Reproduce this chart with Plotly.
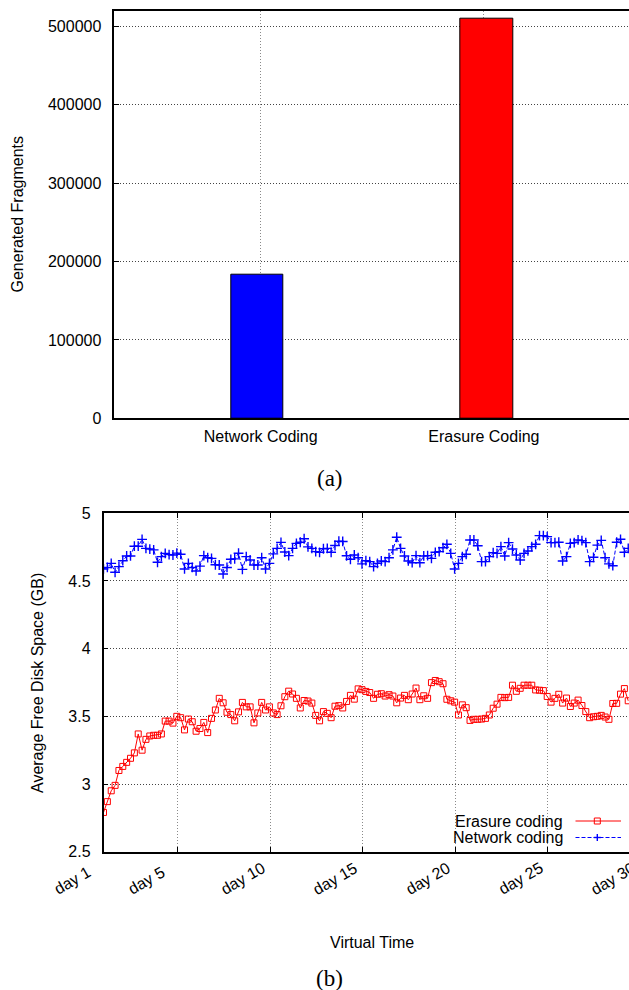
import math
import plotly.graph_objects as go

# ---------------- data ----------------
categories = ["Network Coding", "Erasure Coding"]
fragments = [183000, 510000]
bar_colors = ["#0000ff", "#ff0000"]

step_hours = 5  # one sample every 5 hours, starting on day 1
erasure = [
    2.79, 2.87, 2.95, 2.99, 3.10, 3.13, 3.16, 3.19, 3.23, 3.37,
    3.25, 3.33, 3.355, 3.36, 3.36, 3.37, 3.465, 3.465, 3.45, 3.50,
    3.49, 3.40, 3.48, 3.46, 3.39, 3.41, 3.455, 3.38, 3.485, 3.547,
    3.633, 3.60, 3.53, 3.513, 3.467, 3.533, 3.603, 3.57, 3.57, 3.452,
    3.525, 3.603, 3.547, 3.57, 3.525, 3.513, 3.578, 3.645, 3.686, 3.665,
    3.633, 3.562, 3.617, 3.613, 3.598, 3.507, 3.467, 3.535, 3.522, 3.49,
    3.575, 3.579, 3.562, 3.61, 3.655, 3.627, 3.703, 3.697, 3.684, 3.676,
    3.633, 3.663, 3.667, 3.65, 3.66, 3.65, 3.60, 3.635, 3.655, 3.623,
    3.665, 3.709, 3.623, 3.652, 3.633, 3.749, 3.765, 3.756, 3.741, 3.626,
    3.615, 3.605, 3.51, 3.585, 3.564, 3.47, 3.478, 3.478, 3.48, 3.485,
    3.51, 3.56, 3.59, 3.64, 3.638, 3.64, 3.73, 3.685, 3.707, 3.73,
    3.73, 3.73, 3.695, 3.693, 3.69, 3.647, 3.605, 3.633, 3.663, 3.598,
    3.635, 3.573, 3.598, 3.62, 3.58, 3.535, 3.49, 3.497, 3.50, 3.507,
    3.495, 3.478, 3.595, 3.596, 3.664, 3.705, 3.615,
]
network = [
    4.589, 4.60, 4.63, 4.564, 4.606, 4.65, 4.685, 4.685, 4.757, 4.757,
    4.807, 4.741, 4.736, 4.73, 4.638, 4.68, 4.704, 4.695, 4.692, 4.706,
    4.697, 4.589, 4.63, 4.60, 4.574, 4.61, 4.687, 4.672, 4.667, 4.62,
    4.618, 4.552, 4.60, 4.66, 4.663, 4.705, 4.586, 4.68, 4.655, 4.618,
    4.618, 4.672, 4.589, 4.63, 4.70, 4.741, 4.785, 4.714, 4.687, 4.741,
    4.778, 4.786, 4.812, 4.752, 4.741, 4.717, 4.712, 4.738, 4.741, 4.712,
    4.762, 4.794, 4.792, 4.686, 4.66, 4.692, 4.672, 4.626, 4.65, 4.643,
    4.606, 4.63, 4.648, 4.643, 4.672, 4.73, 4.823, 4.741, 4.685, 4.648,
    4.635, 4.687, 4.635, 4.685, 4.687, 4.667, 4.712, 4.717, 4.746, 4.771,
    4.704, 4.589, 4.63, 4.68, 4.697, 4.803, 4.803, 4.76, 4.643, 4.643,
    4.68, 4.709, 4.704, 4.754, 4.685, 4.783, 4.736, 4.692, 4.655, 4.704,
    4.722, 4.754, 4.771, 4.835, 4.835, 4.828, 4.783, 4.783, 4.786, 4.648,
    4.68, 4.778, 4.783, 4.803, 4.798, 4.783, 4.643, 4.675, 4.765, 4.8,
    4.672, 4.626, 4.613, 4.786, 4.808, 4.712, 4.741,
]
days = [1 + i * step_hours / 24 for i in range(len(erasure))]
day_ticks = [1, 5, 10, 15, 20, 25, 30]
day_labels = ["day %d" % d for d in day_ticks]
series_names = ["Erasure coding", "Network coding"]

# ---------------- geometry / style ----------------
W, H = 629, 990
SANS = "Liberation Sans, Arial, Helvetica, sans-serif"
SERIF = "Liberation Serif, Times New Roman, serif"
RED, BLUE = "#ff0000", "#0000ff"
GRID_H = "#444444"
GRID_V = "#8a8a8a"


def fx(p):
    return p / W


def fy(p):
    return 1 - p / H


top_dom_x = [fx(114.3), 1]
top_dom_y = [fy(418.3), fy(10.7)]
bot_dom_x = [fx(103.5), 1]
bot_dom_y = [fy(851.7), fy(513.3)]
x2_range = [1, 1 + (629 - 103.5) / 18.52]

fig = go.Figure()

fig.add_trace(go.Bar(
    x=categories, y=fragments, width=0.235, offset=[-0.133, -0.105],
    marker=dict(color=bar_colors, line=dict(color="black", width=1)),
    xaxis="x", yaxis="y", showlegend=False,
))
fig.add_trace(go.Scatter(
    x=days, y=erasure, name=series_names[0], mode="lines+markers",
    line=dict(color=RED, width=1),
    marker=dict(symbol="square-open", size=6, color=RED, line=dict(width=1, color=RED)),
    xaxis="x2", yaxis="y2", showlegend=False,
))
fig.add_trace(go.Scatter(
    x=days, y=network, name=series_names[1], mode="lines+markers",
    line=dict(color=BLUE, width=1, dash="4px,2px"),
    marker=dict(symbol="cross-thin-open", size=7, color=BLUE, line=dict(width=1.4, color=BLUE)),
    xaxis="x2", yaxis="y2", showlegend=False,
))

axis_common = dict(
    showline=True, linecolor="black", linewidth=1.5,
    ticks="inside", ticklen=5, tickcolor="black", tickwidth=1,
    tickfont=dict(family=SANS, size=16, color="black"),
    zeroline=False, automargin=False,
)

fig.update_layout(
    width=W, height=H, autosize=False,
    margin=dict(l=0, r=0, t=0, b=0, pad=0, autoexpand=False),
    paper_bgcolor="white", plot_bgcolor="white",
    font=dict(family=SANS, size=16, color="black"),
    bargap=0,
    xaxis=dict(
        domain=top_dom_x, anchor="y", type="category",
        range=[-0.656, 1.65], mirror=True, automargin=False,
        showline=True, linecolor="black", linewidth=1.5,
        ticks="", showgrid=True, gridcolor=GRID_V, gridwidth=1, griddash="1px,2px",
        tickfont=dict(family=SANS, size=16, color="black"),
        ticklabelstandoff=3,
    ),
    yaxis=dict(
        domain=top_dom_y, anchor="x", range=[0, 520000],
        tickvals=[0, 100000, 200000, 300000, 400000, 500000],
        tickformat="d", showgrid=True, gridcolor=GRID_H, gridwidth=1,
        griddash="1px,2px", mirror=False, ticklabelstandoff=8,
        **axis_common,
    ),
    xaxis2=dict(
        domain=bot_dom_x, anchor="y2", range=x2_range,
        tickvals=day_ticks, showticklabels=False,
        showgrid=True, gridcolor=GRID_V, gridwidth=1, griddash="1px,2px",
        mirror="ticks",
        **axis_common,
    ),
    yaxis2=dict(
        domain=bot_dom_y, anchor="x2", range=[2.5, 5],
        tickvals=[2.5, 3, 3.5, 4, 4.5, 5], ticktext=["2.5", "3", "3.5", "4", "4.5", "5"],
        showgrid=True, gridcolor=GRID_H, gridwidth=1, griddash="1px,2px",
        mirror=False, ticklabelstandoff=8,
        **axis_common,
    ),
)

# pixel position of each day tick (last one lies past the cropped edge)
x2_px0 = bot_dom_x[0] * W
x2_scale = (W - x2_px0) / (x2_range[1] - x2_range[0])
tick_px = [x2_px0 + (d - x2_range[0]) * x2_scale for d in day_ticks]
plot_center_px = (x2_px0 + tick_px[-1]) / 2

annotations = [
    dict(text="Generated Fragments", x=fx(17), y=fy(214.5), textangle=-90,
         font=dict(family=SANS, size=16)),
    dict(text="Average Free Disk Space (GB)", x=fx(37), y=fy(683), textangle=-90,
         font=dict(family=SANS, size=16)),
    dict(text="Virtual Time", x=fx(plot_center_px), y=fy(942),
         font=dict(family=SANS, size=16)),
    dict(text="(a)", x=fx(330), y=fy(478), font=dict(family=SERIF, size=23)),
    dict(text="(b)", x=fx(329.5), y=fy(978), font=dict(family=SERIF, size=23)),
    dict(text=series_names[0], x=fx(565), y=fy(821), xanchor="right",
         font=dict(family=SANS, size=16)),
    dict(text=series_names[1], x=fx(565), y=fy(837.5), xanchor="right",
         font=dict(family=SANS, size=16)),
]
# rotated day labels, start-anchored like the original (text begins ~48px left of tick)
ANG = 30
for px, lab in zip(tick_px, day_labels):
    half_w = (30.2 + 8.9 * (len(lab) - 4)) / 2
    cx = px - 48.1 + half_w * math.cos(math.radians(ANG))
    cy = 890.6 - half_w * math.sin(math.radians(ANG))
    annotations.append(dict(text=lab, x=fx(cx), y=fy(cy), textangle=-ANG,
                            font=dict(family=SANS, size=16)))
for a in annotations:
    a.setdefault("xanchor", "center")
    a.setdefault("yanchor", "middle")
    a.update(xref="paper", yref="paper", showarrow=False)
fig.update_layout(annotations=annotations)

# manual legend samples (gnuplot style: text left, sample right)
shapes = [
    dict(type="line", x0=fx(575.5), x1=fx(621), y0=fy(821), y1=fy(821),
         line=dict(color=RED, width=1)),
    dict(type="rect", x0=fx(594.3), x1=fx(600.3), y0=fy(818), y1=fy(824),
         line=dict(color=RED, width=1), fillcolor="rgba(0,0,0,0)"),
    dict(type="line", x0=fx(575.5), x1=fx(621), y0=fy(837.5), y1=fy(837.5),
         line=dict(color=BLUE, width=1, dash="4px,2px")),
    dict(type="line", x0=fx(593.8), x1=fx(600.8), y0=fy(837.5), y1=fy(837.5),
         line=dict(color=BLUE, width=1.4)),
    dict(type="line", x0=fx(597.3), x1=fx(597.3), y0=fy(834), y1=fy(841),
         line=dict(color=BLUE, width=1.4)),
]
for s in shapes:
    s.update(xref="paper", yref="paper", layer="above")
fig.update_layout(shapes=shapes)

fig.write_html("out.html",
               config={"displayModeBar": False},
               post_script="document.body.style.margin='0px';"
                           "document.body.style.overflow='hidden';")
